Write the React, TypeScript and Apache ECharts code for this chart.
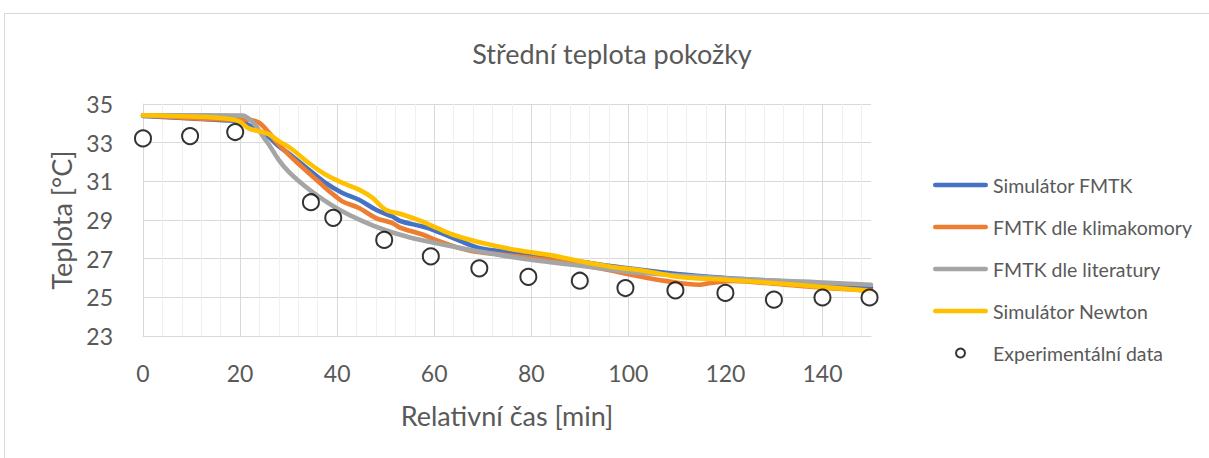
import React, { useEffect, useRef } from "react";
import * as echarts from "echarts";

const TITLE = "Střední teplota pokožky";
const X_NAME = "Relativní čas [min]";
const Y_NAME = "Teplota [°C]";
const NAMES = [
  "Simulátor FMTK",
  "FMTK dle klimakomory",
  "FMTK dle literatury",
  "Simulátor Newton",
  "Experimentální data",
];

// Simulátor FMTK (blue)
const fmtkTime = [0, 10, 19, 21, 24, 25.9, 27.9, 30.7, 34.1, 37.6, 41.1, 44.5, 48, 51.4, 53, 57.6, 60, 64.2, 69, 73.8, 80, 90, 100, 110, 120, 130, 140, 150];
const fmtkTemp = [34.38, 34.25, 34.12, 34.0, 33.6, 33.3, 32.83, 32.31, 31.61, 30.92, 30.4, 30.05, 29.53, 29.18, 28.95, 28.66, 28.47, 28.04, 27.57, 27.38, 27.2, 26.85, 26.5, 26.2, 26.0, 25.85, 25.65, 25.5];

// FMTK dle klimakomory (orange)
const klimaTime = [0, 19, 21, 23.8, 25.9, 27.9, 30.7, 34.1, 37.6, 39.7, 41.1, 44.5, 48, 51.4, 53, 57.6, 60, 67, 73.8, 84.2, 94.6, 101.4, 107.6, 114.6, 117, 121.5, 130, 140, 150];
const klimaTemp = [34.42, 34.2, 34.2, 34.05, 33.53, 32.92, 32.22, 31.44, 30.66, 30.22, 29.96, 29.62, 29.1, 28.84, 28.6, 28.25, 28.0, 27.43, 27.21, 26.91, 26.48, 26.13, 25.85, 25.65, 25.74, 25.85, 25.7, 25.5, 25.35];

// FMTK dle literatury (gray)
const litTime = [0, 20.5, 22, 23, 24, 25, 26, 28, 30, 33, 36, 40, 45, 50, 55, 60, 67, 74, 81, 88, 95, 101, 120, 139, 150];
const litTemp = [34.42, 34.4, 34.2, 33.95, 33.6, 33.22, 32.88, 32.1, 31.5, 30.82, 30.25, 29.6, 28.97, 28.47, 28.1, 27.82, 27.47, 27.17, 26.91, 26.7, 26.48, 26.3, 25.98, 25.78, 25.65];

// Simulátor Newton (yellow)
const newtonTime = [0, 10, 17, 20, 21.7, 23.8, 25.9, 27.9, 30.7, 34.1, 37.6, 41.1, 44.5, 47.3, 50, 53.3, 57.6, 60, 64.2, 70.4, 77.3, 84.2, 91.1, 98, 102.8, 111.1, 120.8, 131.8, 142.2, 150];
const newtonTemp = [34.42, 34.35, 34.25, 34.08, 33.75, 33.6, 33.44, 33.09, 32.66, 31.96, 31.35, 30.92, 30.57, 30.14, 29.53, 29.3, 28.92, 28.65, 28.21, 27.78, 27.43, 27.17, 26.82, 26.53, 26.39, 26.04, 25.9, 25.7, 25.49, 25.32];

// Experimentální data
const expTime = [0, 9.7, 19, 34.6, 39.2, 49.7, 59.3, 69.3, 79.4, 90, 99.4, 109.7, 120, 130, 140, 149.7];
const expTemp = [33.22, 33.34, 33.55, 29.92, 29.11, 27.97, 27.12, 26.5, 26.06, 25.86, 25.48, 25.36, 25.23, 24.88, 24.99, 24.99];

const COLORS = ["#4472C4", "#ED7D31", "#A5A5A5", "#FFC000"];
const FONT = "Lato, 'Open Sans', sans-serif";
const TEXT = "#595959";
const LINE_ICON = "path://M2.2,0 L52.8,0 A2.2,2.2 0 0 1 52.8,4.4 L2.2,4.4 A2.2,2.2 0 0 1 2.2,0 Z";

const zip = (t: number[], v: number[]) => t.map((x, i) => [x, v[i]]);

export default function App() {
  const ref = useRef<HTMLDivElement>(null);
  useEffect(() => {
    if (!ref.current) return;
    const chart = echarts.init(ref.current, undefined, { renderer: "svg" });
    const lineSeries = [
      zip(fmtkTime, fmtkTemp),
      zip(klimaTime, klimaTemp),
      zip(litTime, litTemp),
      zip(newtonTime, newtonTemp),
    ].map((data, i) => ({
      name: NAMES[i],
      type: "line",
      data,
      symbol: "none",
      smooth: 0.35,
      lineStyle: { color: COLORS[i], width: 4.6, cap: "round", join: "round" },
      itemStyle: { color: COLORS[i] },
      z: 3 + i,
    }));
    chart.setOption({
      animation: false,
      backgroundColor: "#ffffff",
      textStyle: { fontFamily: FONT },
      title: {
        text: TITLE,
        left: 607,
        textAlign: "center",
        top: 35,
        textStyle: { fontFamily: FONT, fontSize: 27, fontWeight: "normal", color: TEXT },
      },
      graphic: [
        {
          type: "rect",
          shape: { x: 4.5, y: 13.5, width: 1300, height: 600 },
          style: { fill: "none", stroke: "#d9d9d9", lineWidth: 1 },
          silent: true,
        },
      ],
      legend: {
        orient: "vertical",
        left: 933,
        top: 175,
        itemWidth: 55,
        itemHeight: 9,
        itemGap: 22,
        padding: 0,
        textStyle: { fontFamily: FONT, fontSize: 19.5, color: TEXT },
        data: [
          { name: NAMES[0], icon: LINE_ICON },
          { name: NAMES[1], icon: LINE_ICON },
          { name: NAMES[2], icon: LINE_ICON },
          { name: NAMES[3], icon: LINE_ICON },
          { name: NAMES[4], icon: "emptyCircle", itemStyle: { borderWidth: 2.5 } },
        ],
      },
      grid: { left: 143, right: 338, top: 104, bottom: 122, containLabel: false },
      xAxis: [
        {
          type: "value",
          min: 0,
          max: 150,
          interval: 20,
          z: 1,
          name: X_NAME,
          nameLocation: "middle",
          nameGap: 66,
          nameTextStyle: { fontFamily: FONT, fontSize: 27, color: TEXT },
          axisLine: { show: true, lineStyle: { color: "#d9d9d9", width: 1 } },
          axisTick: { show: false },
          axisLabel: { showMaxLabel: false, margin: 25, fontFamily: FONT, fontSize: 23, color: TEXT },
          splitLine: { show: true, showMaxLine: false, lineStyle: { color: "#d9d9d9", width: 1 } },
        },
        {
          type: "value",
          min: 0,
          max: 150,
          interval: 4,
          z: 0,
          position: "bottom",
          axisLine: { show: false },
          axisTick: { show: false },
          axisLabel: { show: false },
          splitLine: { show: true, showMaxLine: false, showMinLine: false, lineStyle: { color: "#efefef", width: 1 } },
        },
      ],
      yAxis: {
        type: "value",
        min: 23,
        max: 35,
        interval: 2,
        name: Y_NAME,
        nameLocation: "middle",
        nameGap: 68,
        nameTextStyle: { fontFamily: FONT, fontSize: 27, color: TEXT },
        axisLine: { show: true, lineStyle: { color: "#d9d9d9", width: 1 } },
        axisTick: { show: false },
        axisLabel: { margin: 30, fontFamily: FONT, fontSize: 23, color: TEXT },
        splitLine: { show: true, lineStyle: { color: "#d9d9d9", width: 1 } },
      },
      series: [
        ...lineSeries,
        {
          name: NAMES[4],
          type: "scatter",
          data: zip(expTime, expTemp),
          symbol: "emptyCircle",
          symbolSize: 16,
          itemStyle: { color: "#000000", borderWidth: 2 },
          z: 10,
        },
      ],
    });
    return () => chart.dispose();
  }, []);
  return (
    <div
      ref={ref}
      style={{ position: "absolute", left: 0, top: 0, width: 1209, height: 458 }}
    />
  );
}
